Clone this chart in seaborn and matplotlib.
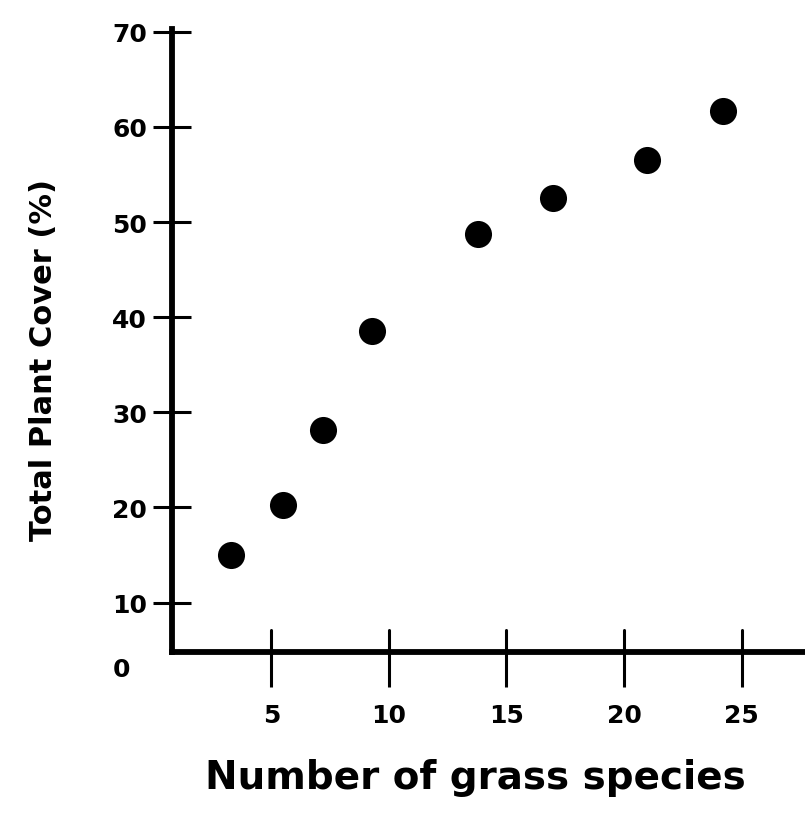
import matplotlib
matplotlib.use('Agg')
import matplotlib.pyplot as plt
import pandas as pd
import seaborn as sns

# values
species = [3.3, 5.5, 7.2, 9.3, 13.8, 17.0, 21.0, 24.2]
cover = [15.0, 20.3, 28.1, 38.6, 48.7, 52.5, 56.5, 61.7]
x_ticks = [5, 10, 15, 20, 25]
y_ticks = [10, 20, 30, 40, 50, 60, 70]

df = pd.DataFrame({'species': species, 'cover': cover})

sns.set_style('ticks')
plt.rcParams['font.family'] = ['DejaVu Sans']
plt.rcParams['text.color'] = 'black'
plt.rcParams['axes.labelcolor'] = 'black'
plt.rcParams['xtick.color'] = 'black'
plt.rcParams['ytick.color'] = 'black'

fig = plt.figure(figsize=(8.05, 8.2), dpi=100)
axis = fig.add_axes([0.2137, 0.2037, 0.7863, 0.7597])

sns.scatterplot(data=df, x='species', y='cover', ax=axis, color='black',
                s=380, edgecolor='black', linewidth=0, zorder=3)

axis.set_xlim(0.78, 27.7)
axis.set_ylim(4.8, 70.3)
axis.set_xticks(x_ticks)
axis.set_yticks(y_ticks)
axis.set_xticklabels([str(t) for t in x_ticks], fontsize=18, fontweight='bold')
axis.set_yticklabels([str(t) for t in y_ticks], fontsize=18, fontweight='bold')
axis.tick_params(axis='x', which='major', direction='out', length=25, width=2.2, pad=12, color='black')
axis.tick_params(axis='y', direction='inout', length=28, width=2.2, pad=4, color='black')
# inward half of the x ticks (inout didn't draw below the spine)
for t in x_ticks:
    axis.plot([t, t], [4.8, 7.1], color='black', linewidth=2.2, clip_on=False, zorder=2)

for side in ['top', 'right']:
    axis.spines[side].set_visible(False)
for side in ['left', 'bottom']:
    axis.spines[side].set_linewidth(4.2)
    axis.spines[side].set_color('black')

# stray zero at the origin, below the x-axis
axis.text(-1.35, 3.0, '0', fontsize=18, fontweight='bold', ha='center', va='center', clip_on=False)

axis.set_xlabel('Number of grass species', fontsize=28, fontweight='bold')
axis.xaxis.set_label_coords(0.48, -0.17)
axis.set_ylabel('Total Plant Cover (%)', fontsize=22, fontweight='bold')
axis.yaxis.set_label_coords(-0.18, 0.47)

fig.savefig('out.png', dpi=100)
